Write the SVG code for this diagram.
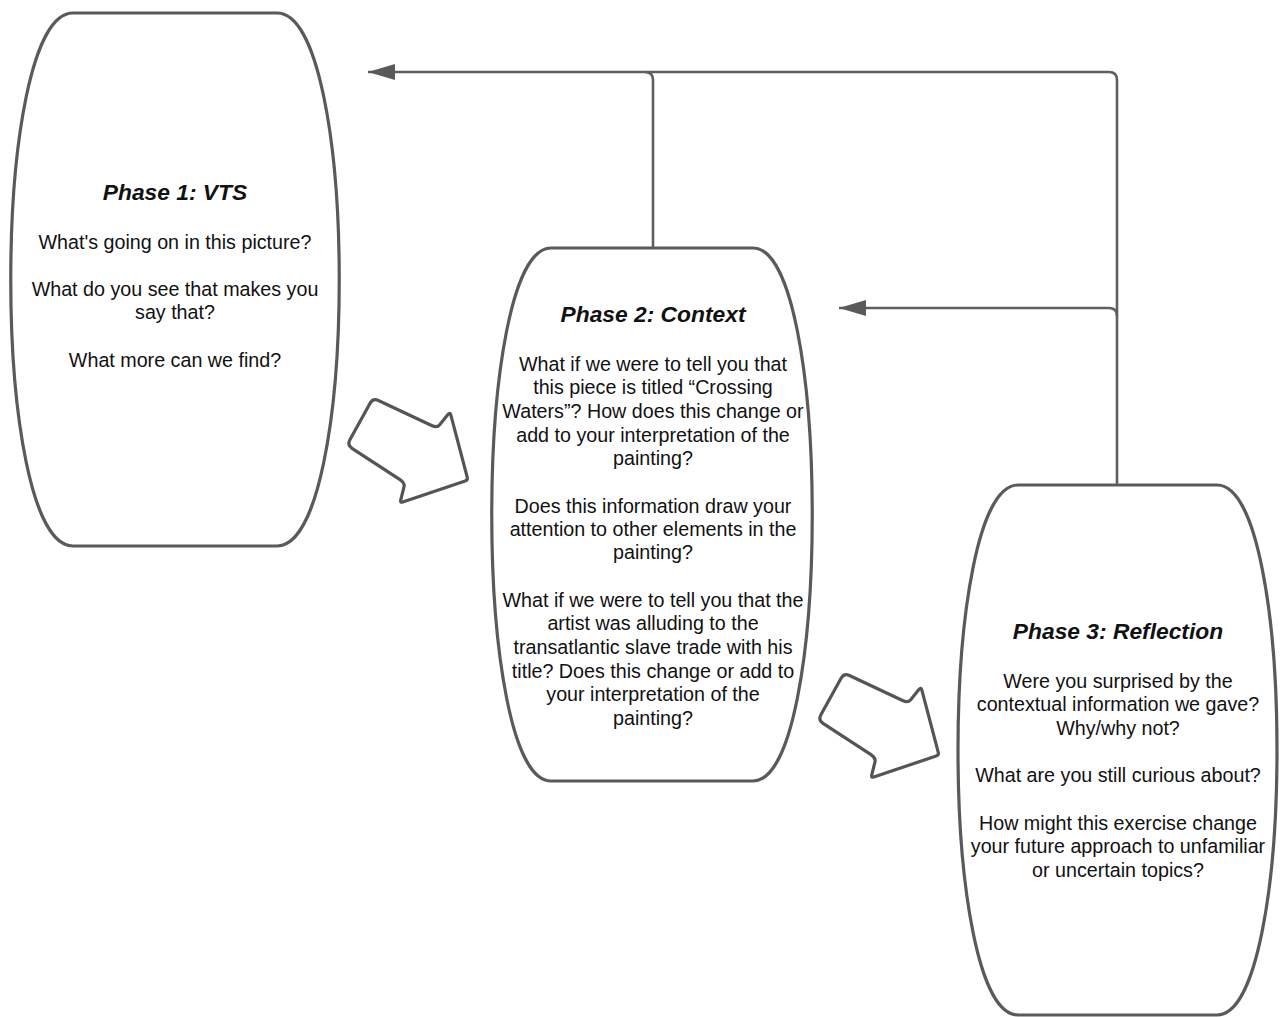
<svg xmlns="http://www.w3.org/2000/svg" width="1280" height="1017" viewBox="0 0 1280 1017">
<style>
.node{fill:#fff;stroke:#5a5a5a;stroke-width:3.2;stroke-linejoin:round}
.conn{fill:none;stroke:#5f5f5f;stroke-width:2.6}
.blk{fill:#fff;stroke:#555;stroke-width:3.2;stroke-linejoin:round}
text{font-family:"Liberation Sans",Arial,sans-serif;fill:#111;text-anchor:middle}
.t{font-size:22.8px;font-weight:bold;font-style:italic}
.b{font-size:19.7px}
</style>
<defs>
<marker id="ah" markerUnits="userSpaceOnUse" markerWidth="28" markerHeight="18" refX="27" refY="8" orient="auto">
<path d="M0,0 L27,8 L0,16 Z" fill="#5a5a5a"/>
</marker>
<path id="blockarrow" d="M378.4,400.5 L431.6,425.5 Q437,428 439.5,424.9 L448.1,414.3 Q450,412 450.8,414.9 L467.2,477.1 Q468,480 465.2,481 L402.8,502 Q400,503 400.7,500.1 L404,486.9 Q405,483 400,479.7 L352,448.3 Q347,445 349.9,439.8 L370.1,403.3 Q373,398 378.4,400.5 Z"/>
</defs>
<rect width="1280" height="1017" fill="#fff"/>
<g id="connectors">
<path class="conn" d="M653,248 V80 Q653,72 645,72"/>
<path class="conn" d="M1117,485 V80 Q1117,72 1109,72 H368" marker-end="url(#ah)"/>
<path class="conn" d="M1117,316 Q1117,308 1109,308 H839" marker-end="url(#ah)"/>
</g>
<g id="arrow1">
<use href="#blockarrow" class="blk"/>
</g>
<g id="arrow2">
<use href="#blockarrow" class="blk" transform="translate(471,275)"/>
</g>
<g id="phase1">
<path class="node" d="M73,13 H277 C360,13 360,546 277,546 H73 C-10,546 -10,13 73,13 Z"/>
<text class="t" x="175" y="200">Phase 1: VTS</text>
<text class="b" x="175" y="249">What's going on in this picture?</text>
<text class="b" x="175" y="296">What do you see that makes you</text>
<text class="b" x="175" y="319">say that?</text>
<text class="b" x="175" y="367">What more can we find?</text>
</g>
<g id="phase2">
<path class="node" d="M551,248 H753 C832,248 832,781 753,781 H551 C472,781 472,248 551,248 Z"/>
<text class="t" x="653" y="322">Phase 2: Context</text>
<text class="b" x="653" y="371">What if we were to tell you that</text>
<text class="b" x="653" y="394">this piece is titled “Crossing</text>
<text class="b" x="653" y="418">Waters”? How does this change or</text>
<text class="b" x="653" y="442">add to your interpretation of the</text>
<text class="b" x="653" y="465">painting?</text>
<text class="b" x="653" y="513">Does this information draw your</text>
<text class="b" x="653" y="536">attention to other elements in the</text>
<text class="b" x="653" y="559">painting?</text>
<text class="b" x="653" y="607">What if we were to tell you that the</text>
<text class="b" x="653" y="630">artist was alluding to the</text>
<text class="b" x="653" y="654">transatlantic slave trade with his</text>
<text class="b" x="653" y="678">title? Does this change or add to</text>
<text class="b" x="653" y="701">your interpretation of the</text>
<text class="b" x="653" y="725">painting?</text>
</g>
<g id="phase3">
<path class="node" d="M1018,485 H1217 C1297,485 1297,1015 1217,1015 H1018 C938,1015 938,485 1018,485 Z"/>
<text class="t" x="1118" y="639">Phase 3: Reflection</text>
<text class="b" x="1118" y="688">Were you surprised by the</text>
<text class="b" x="1118" y="711">contextual information we gave?</text>
<text class="b" x="1118" y="735">Why/why not?</text>
<text class="b" x="1118" y="782">What are you still curious about?</text>
<text class="b" x="1118" y="830">How might this exercise change</text>
<text class="b" x="1118" y="853">your future approach to unfamiliar</text>
<text class="b" x="1118" y="877">or uncertain topics?</text>
</g>
</svg>
